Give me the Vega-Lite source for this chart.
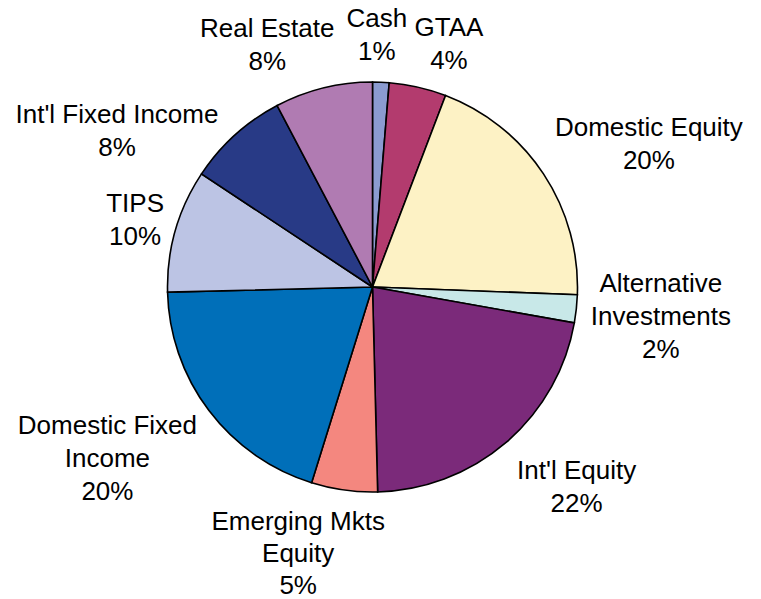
{
  "$schema": "https://vega.github.io/schema/vega-lite/v6.json",
  "width": 745,
  "height": 574,
  "padding": {"left": 0, "top": 0, "right": 16, "bottom": 25},
  "autosize": {"type": "none"},
  "background": "white",
  "config": {"view": {"stroke": null}},
  "data": {
    "values": [
      {"rank": 1, "category": "Cash", "share": 1.3, "label": "Cash\n1%"},
      {"rank": 2, "category": "GTAA", "share": 4.5, "label": "GTAA\n4%"},
      {"rank": 3, "category": "Domestic Equity", "share": 19.8, "label": "Domestic Equity\n20%"},
      {"rank": 4, "category": "Alternative Investments", "share": 2.2, "label": "Alternative\nInvestments\n2%"},
      {"rank": 5, "category": "Int'l Equity", "share": 21.8, "label": "Int'l Equity\n22%"},
      {"rank": 6, "category": "Emerging Mkts Equity", "share": 5.2, "label": "Emerging Mkts\nEquity\n5%"},
      {"rank": 7, "category": "Domestic Fixed Income", "share": 19.8, "label": "Domestic Fixed\nIncome\n20%"},
      {"rank": 8, "category": "TIPS", "share": 9.7, "label": "TIPS\n10%"},
      {"rank": 9, "category": "Int'l Fixed Income", "share": 8.0, "label": "Int'l Fixed Income\n8%"},
      {"rank": 10, "category": "Real Estate", "share": 7.7, "label": "Real Estate\n8%"}
    ]
  },
  "encoding": {
    "theta": {"field": "share", "type": "quantitative", "stack": true},
    "order": {"field": "rank", "type": "quantitative"}
  },
  "layer": [
    {
      "mark": {"type": "arc", "outerRadius": 205, "stroke": "black", "strokeWidth": 1.6},
      "encoding": {
        "color": {
          "field": "category",
          "type": "nominal",
          "legend": null,
          "scale": {
            "domain": ["Cash", "GTAA", "Domestic Equity", "Alternative Investments", "Int'l Equity", "Emerging Mkts Equity", "Domestic Fixed Income", "TIPS", "Int'l Fixed Income", "Real Estate"],
            "range": ["#8b9bd0", "#b33b6e", "#fdf2c5", "#c8e8e8", "#7b2a7a", "#f4877f", "#006fb9", "#bcc4e4", "#283a86", "#b07bb2"]
          }
        }
      }
    },
    {
      "mark": {"type": "text", "radius": 251, "dx": -6, "dy": -17, "font": "Liberation Sans", "fontSize": 26, "lineHeight": 33, "lineBreak": "\n", "align": "center", "baseline": "middle", "color": "black"},
      "encoding": {"text": {"condition": {"test": "datum.rank === 1", "field": "label"}, "value": ""}}
    },
    {
      "mark": {"type": "text", "radius": 255, "dx": 20, "dy": -10, "font": "Liberation Sans", "fontSize": 26, "lineHeight": 33, "lineBreak": "\n", "align": "center", "baseline": "middle", "color": "black"},
      "encoding": {"text": {"condition": {"test": "datum.rank === 2", "field": "label"}, "value": ""}}
    },
    {
      "mark": {"type": "text", "radius": 311, "dx": 17, "dy": 13, "font": "Liberation Sans", "fontSize": 26, "lineHeight": 33, "lineBreak": "\n", "align": "center", "baseline": "middle", "color": "black"},
      "encoding": {"text": {"condition": {"test": "datum.rank === 3", "field": "label"}, "value": ""}}
    },
    {
      "mark": {"type": "text", "radius": 290, "dx": 0, "dy": -34, "font": "Liberation Sans", "fontSize": 26, "lineHeight": 33, "lineBreak": "\n", "align": "center", "baseline": "middle", "color": "black"},
      "encoding": {"text": {"condition": {"test": "datum.rank === 4", "field": "label"}, "value": ""}}
    },
    {
      "mark": {"type": "text", "radius": 287, "dx": 17, "dy": -34, "font": "Liberation Sans", "fontSize": 26, "lineHeight": 33, "lineBreak": "\n", "align": "center", "baseline": "middle", "color": "black"},
      "encoding": {"text": {"condition": {"test": "datum.rank === 5", "field": "label"}, "value": ""}}
    },
    {
      "mark": {"type": "text", "radius": 278, "dx": -36, "dy": -40, "font": "Liberation Sans", "fontSize": 26, "lineHeight": 32, "lineBreak": "\n", "align": "center", "baseline": "middle", "color": "black"},
      "encoding": {"text": {"condition": {"test": "datum.rank === 6", "field": "label"}, "value": ""}}
    },
    {
      "mark": {"type": "text", "radius": 316, "dx": -13, "dy": -52, "font": "Liberation Sans", "fontSize": 26, "lineHeight": 33, "lineBreak": "\n", "align": "center", "baseline": "middle", "color": "black"},
      "encoding": {"text": {"condition": {"test": "datum.rank === 7", "field": "label"}, "value": ""}}
    },
    {
      "mark": {"type": "text", "radius": 247, "dx": 0, "dy": -15, "font": "Liberation Sans", "fontSize": 26, "lineHeight": 33, "lineBreak": "\n", "align": "center", "baseline": "middle", "color": "black"},
      "encoding": {"text": {"condition": {"test": "datum.rank === 8", "field": "label"}, "value": ""}}
    },
    {
      "mark": {"type": "text", "radius": 299, "dx": -55, "dy": 50, "font": "Liberation Sans", "fontSize": 26, "lineHeight": 33, "lineBreak": "\n", "align": "center", "baseline": "middle", "color": "black"},
      "encoding": {"text": {"condition": {"test": "datum.rank === 9", "field": "label"}, "value": ""}}
    },
    {
      "mark": {"type": "text", "radius": 264, "dx": -42, "dy": -2, "font": "Liberation Sans", "fontSize": 26, "lineHeight": 33, "lineBreak": "\n", "align": "center", "baseline": "middle", "color": "black"},
      "encoding": {"text": {"condition": {"test": "datum.rank === 10", "field": "label"}, "value": ""}}
    }
  ]
}
